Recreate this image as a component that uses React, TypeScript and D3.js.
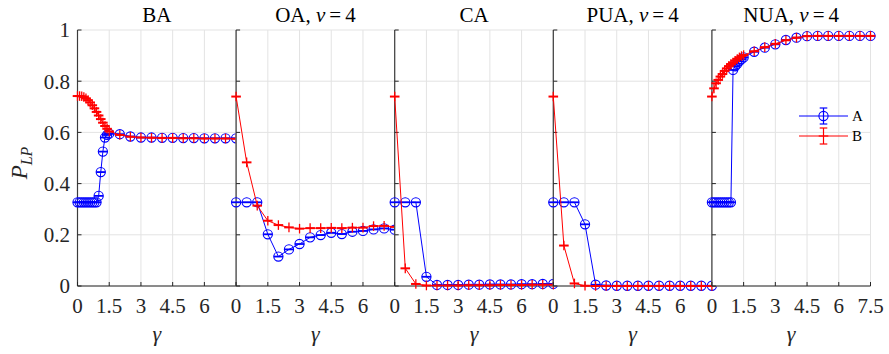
import * as d3 from 'd3';

// gamma values: dense sampling (BA, NUA) and coarse sampling (OA, CA, PUA)
const xDense = [0, 0.1, 0.2, 0.3, 0.4, 0.5, 0.6, 0.7, 0.8, 0.9, 1.0, 1.1, 1.2, 1.3, 1.4, 1.5,
  2, 2.5, 3, 3.5, 4, 4.5, 5, 5.5, 6, 6.5, 7, 7.5];
const xCoarse = [0, 0.5, 1, 1.5, 2, 2.5, 3, 3.5, 4, 4.5, 5, 5.5, 6, 6.5, 7, 7.5];

const baA = [0.327, 0.327, 0.327, 0.327, 0.327, 0.327, 0.327, 0.327, 0.327, 0.327, 0.352, 0.445, 0.525, 0.58, 0.59, 0.595,
  0.593, 0.584, 0.58, 0.58, 0.579, 0.579, 0.578, 0.578, 0.577, 0.577, 0.577, 0.577];
const baB = [0.742, 0.742, 0.741, 0.738, 0.733, 0.726, 0.717, 0.706, 0.694, 0.68, 0.666, 0.652, 0.638, 0.625, 0.614, 0.604,
  0.59, 0.583, 0.58, 0.579, 0.578, 0.578, 0.577, 0.577, 0.576, 0.576, 0.576, 0.575];

const oaA = [0.327, 0.327, 0.327, 0.202, 0.115, 0.143, 0.164, 0.19, 0.199, 0.208, 0.203, 0.212, 0.215, 0.221, 0.225, 0.22];
const oaB = [0.74, 0.483, 0.314, 0.255, 0.238, 0.229, 0.224, 0.226, 0.226, 0.227, 0.226, 0.228, 0.228, 0.234, 0.235, 0.231];

const caA = [0.327, 0.327, 0.327, 0.036, 0.004, 0.004, 0.004, 0.005, 0.005, 0.006, 0.006, 0.006, 0.007, 0.007, 0.008, 0.008];
const caB = [0.74, 0.069, 0.008, 0.002, 0.002, 0.002, 0.002, 0.003, 0.003, 0.003, 0.004, 0.004, 0.004, 0.005, 0.005, 0.005];

const puaA = [0.327, 0.327, 0.327, 0.241, 0.005, 0.002, 0.001, 0.001, 0.001, 0.001, 0.001, 0.001, 0.001, 0.001, 0.001, 0.001];
const puaB = [0.74, 0.158, 0.01, 0.001, 0, 0, 0, 0, 0, 0, 0, 0, 0, 0, 0, 0];

const nuaA = [0.327, 0.327, 0.327, 0.327, 0.327, 0.327, 0.327, 0.327, 0.327, 0.327, 0.844, 0.858, 0.868, 0.878, 0.886, 0.893,
  0.915, 0.931, 0.944, 0.961, 0.97, 0.976, 0.977, 0.977, 0.977, 0.977, 0.977, 0.977];
const nuaB = [0.74, 0.772, 0.792, 0.805, 0.818, 0.828, 0.84, 0.85, 0.859, 0.867, 0.873, 0.88, 0.887, 0.893, 0.898, 0.902,
  0.917, 0.933, 0.946, 0.96, 0.97, 0.976, 0.977, 0.977, 0.977, 0.977, 0.977, 0.977];

const titles = ['BA', 'OA', 'CA', 'PUA', 'NUA'];
const xTicks = [0, 1.5, 3, 4.5, 6, 7.5];
const yTicks = [0, 0.2, 0.4, 0.6, 0.8, 1];
const seriesNames = ['A', 'B'];

const W = 889, H = 354;
const left = 77.5, panelW = 158.6, top = 30, bottom = 286;
const FONT = "'Liberation Serif', 'DejaVu Serif', serif";
const BLUE = '#0000ff', RED = '#ff0000';

const panels = [
  { title: titles[0], v: false, x: xDense, a: baA, b: baB },
  { title: titles[1], v: true, x: xCoarse, a: oaA, b: oaB },
  { title: titles[2], v: false, x: xCoarse, a: caA, b: caB },
  { title: titles[3], v: true, x: xCoarse, a: puaA, b: puaB },
  { title: titles[4], v: true, x: xDense, a: nuaA, b: nuaB },
];

const y = d3.scaleLinear().domain([0, 1]).range([bottom, top]);

function Circle({ cx, cy, color }) {
  return (
    <g>
      <circle cx={cx} cy={cy} r={4.6} fill="none" stroke={color} strokeWidth={1.1} />
      <line x1={cx - 4.6} x2={cx + 4.6} y1={cy} y2={cy} stroke={color} strokeWidth={1.8} />
    </g>
  );
}

function Plus({ cx, cy, color }) {
  return (
    <g stroke={color} strokeWidth={1.3}>
      <line x1={cx - 4.8} x2={cx + 4.8} y1={cy} y2={cy} strokeWidth={2} />
      <line x1={cx} x2={cx} y1={cy - 4.8} y2={cy + 4.8} />
    </g>
  );
}

function Panel({ p, i }) {
  const x0 = left + i * panelW;
  const x = d3.scaleLinear().domain([0, 7.5]).range([x0, x0 + panelW]);
  const line = d3.line<number>().x((_, k) => x(p.x[k])).y(d => y(d));
  const last = i === panels.length - 1;
  const labels = last ? xTicks : xTicks.slice(0, -1);
  return (
    <g>
      <rect x={x0} y={top} width={panelW} height={bottom - top} fill="#fff" />
      {xTicks.map(t => (
        <line key={'gx' + t} x1={x(t)} x2={x(t)} y1={top} y2={bottom} stroke="#e3e3e3" strokeWidth={1} />
      ))}
      {yTicks.map(t => (
        <line key={'gy' + t} x1={x0} x2={x0 + panelW} y1={y(t)} y2={y(t)} stroke="#e3e3e3" strokeWidth={1} />
      ))}
      <line x1={x0} x2={x0} y1={top} y2={bottom} stroke="#3c3c3c" strokeWidth={1.2} />
      <line x1={x0} x2={x0 + panelW} y1={bottom} y2={bottom} stroke="#262626" strokeWidth={1} />
      {yTicks.map(t => (
        <line key={'ty' + t} x1={x0} x2={x0 + 4} y1={y(t)} y2={y(t)} stroke="#262626" strokeWidth={1} />
      ))}
      {xTicks.map(t => (
        <line key={'tx' + t} x1={x(t)} x2={x(t)} y1={bottom} y2={bottom - 4} stroke="#262626" strokeWidth={1} />
      ))}
      {labels.map(t => (
        <text key={'lx' + t} x={x(t)} y={313} textAnchor="middle" fontSize={21} fill="#262626">{t}</text>
      ))}
      <text x={x(3.75)} y={341} textAnchor="middle" fontSize={22} fontStyle="italic" fill="#262626">γ</text>
      <text x={x(3.75)} y={22} textAnchor="middle" fontSize={21} fill="#000">
        {p.title}
        {p.v ? <tspan>, <tspan fontStyle="italic">v</tspan><tspan dx={4}>=</tspan><tspan dx={4}>4</tspan></tspan> : null}
      </text>
      <path d={line(p.a) || ''} fill="none" stroke={BLUE} strokeWidth={1} />
      {p.a.map((d, k) => <Circle key={'a' + k} cx={x(p.x[k])} cy={y(d)} color={BLUE} />)}
      <path d={line(p.b) || ''} fill="none" stroke={RED} strokeWidth={1} />
      {p.b.map((d, k) => <Plus key={'b' + k} cx={x(p.x[k])} cy={y(d)} color={RED} />)}
    </g>
  );
}

function Legend() {
  const lx = 799, lw = 49, cx = lx + lw / 2;
  const rows = [{ name: seriesNames[0], color: BLUE, yy: 116 }, { name: seriesNames[1], color: RED, yy: 136 }];
  return (
    <g>
      {rows.map((r, k) => (
        <g key={r.name}>
          <line x1={lx} x2={lx + lw} y1={r.yy} y2={r.yy} stroke={r.color} strokeWidth={1} />
          <line x1={cx} x2={cx} y1={r.yy - 8} y2={r.yy + 8} stroke={r.color} strokeWidth={1.2} />
          <line x1={cx - 3.8} x2={cx + 3.8} y1={r.yy - 8} y2={r.yy - 8} stroke={r.color} strokeWidth={1.2} />
          <line x1={cx - 3.8} x2={cx + 3.8} y1={r.yy + 8} y2={r.yy + 8} stroke={r.color} strokeWidth={1.2} />
          {k === 0
            ? <circle cx={cx} cy={r.yy} r={4.6} fill="none" stroke={r.color} strokeWidth={1.1} />
            : <line x1={cx - 4.8} x2={cx + 4.8} y1={r.yy} y2={r.yy} stroke={r.color} strokeWidth={1.2} />}
          <text x={852} y={r.yy} dy="0.35em" fontSize={15} fill="#000">{r.name}</text>
        </g>
      ))}
    </g>
  );
}

export default function App() {
  return (
    <svg width={W} height={H} style={{ position: 'absolute', left: 0, top: 0, background: '#fff', fontFamily: FONT }}>
      <rect width={W} height={H} fill="#fff" />
      {panels.map((p, i) => <Panel key={p.title} p={p} i={i} />)}
      {yTicks.map(t => (
        <text key={'ly' + t} x={70} y={y(t)} dy="0.35em" textAnchor="end" fontSize={21} fill="#262626">{t}</text>
      ))}
      <text transform="translate(27,163) rotate(-90)" textAnchor="middle" fill="#262626" fontStyle="italic">
        <tspan fontSize={23}>P</tspan>
        <tspan fontSize={16} dy={5}>LP</tspan>
      </text>
      <Legend />
    </svg>
  );
}
